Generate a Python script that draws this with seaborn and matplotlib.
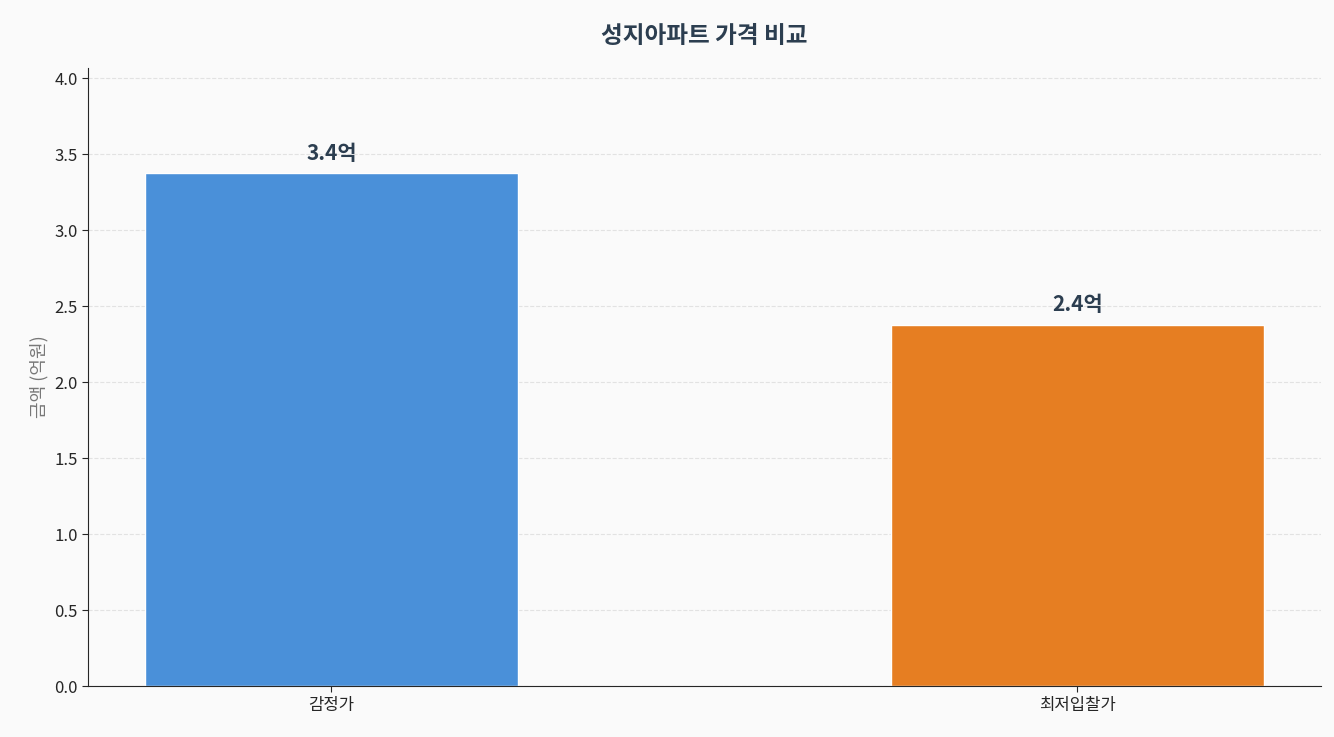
import matplotlib
matplotlib.use("Agg")
import matplotlib.pyplot as plt
import seaborn as sns
import pandas as pd

categories = ["감정가", "최저입찰가"]
values = [3.38, 2.38]
labels = ["3.4억", "2.4억"]
colors = ["#4a90d9", "#e67e22"]

sns.set_style("white")
plt.rcParams["font.family"] = ["Noto Sans CJK KR", "DejaVu Sans"]
plt.rcParams["axes.unicode_minus"] = False

df = pd.DataFrame({"항목": categories, "금액": values})

fig, ax = plt.subplots(figsize=(13.34, 7.37), dpi=100)
fig.patch.set_facecolor("#fafafa")
ax.set_facecolor("#fafafa")

sns.barplot(data=df, x="항목", y="금액", hue="항목", palette=colors,
            width=0.5, legend=False, ax=ax, saturation=1)

for i, (v, lab) in enumerate(zip(values, labels)):
    ax.text(i, v + 0.06, lab, ha="center", va="bottom", fontsize=15,
            fontweight="bold", color="#2c3e50")

ax.set_xlim(-0.326, 1.326)
ax.set_ylim(0, 4.07)
ax.set_yticks([0, 0.5, 1.0, 1.5, 2.0, 2.5, 3.0, 3.5, 4.0])
ax.yaxis.grid(True, linestyle="--", color="#dddddd", alpha=0.8)
ax.set_axisbelow(True)
ax.set_xlabel("")
ax.set_ylabel("금액 (억원)", fontsize=13, color="#777777")
ax.tick_params(axis="both", labelsize=12, length=4, left=True, bottom=True)
ax.set_title("성지아파트 가격 비교", fontsize=17, fontweight="bold",
             color="#2c3e50", pad=18)
sns.despine(ax=ax)

plt.subplots_adjust(left=0.066, right=0.99, top=0.908, bottom=0.069)
plt.savefig("out.png", dpi=100, facecolor=fig.get_facecolor())
